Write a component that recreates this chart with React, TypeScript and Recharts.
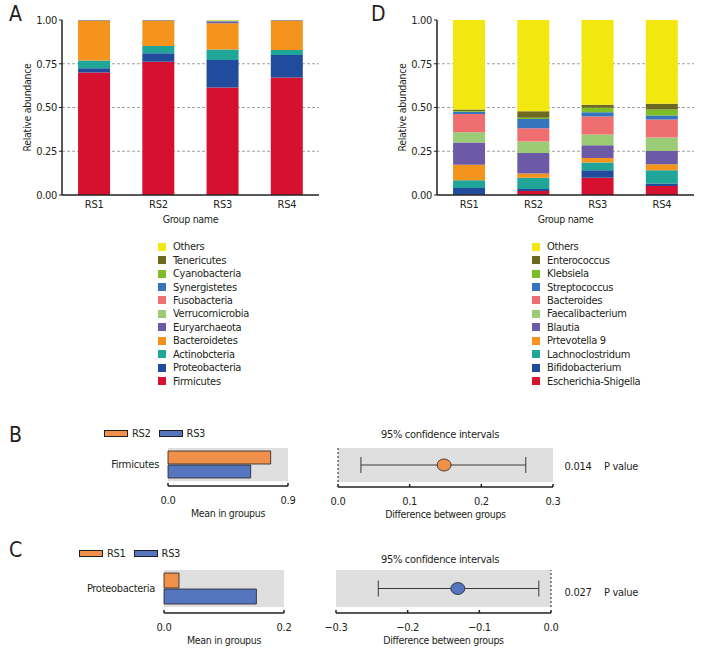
import React from "react";
import {
  BarChart,
  Bar,
  XAxis,
  YAxis,
  CartesianGrid,
  ReferenceArea,
  ReferenceLine,
  ScatterChart,
  Scatter,
  ErrorBar,
} from "recharts";

const FONT = "'Liberation Sans Narrow', 'DejaVu Sans Condensed', 'Roboto', sans-serif";
const INK = "#231f20";
const GREY_BG = "#dfdfdf";
const ORANGE = "#f0914b";
const BLUE = "#5576bf";

const groups = ["RS1", "RS2", "RS3", "RS4"];

// panel A - phylum level, listed from the bottom of the stack up
const phyla = [
  "Firmicutes",
  "Proteobacteria",
  "Actinobcteria",
  "Bacteroidetes",
  "Euryarchaeota",
  "Verrucomicrobia",
  "Fusobacteria",
  "Synergistetes",
  "Cyanobacteria",
  "Tenericutes",
  "Others",
];
const firmicutes = [0.7, 0.762, 0.615, 0.672];
const proteobacteria = [0.024, 0.048, 0.156, 0.128];
const actinobacteria = [0.044, 0.041, 0.061, 0.029];
const bacteroidetes = [0.228, 0.145, 0.149, 0.167];
const euryarchaeota = [0.0005, 0.0005, 0.008, 0.0005];
const verrucomicrobia = [0.0005, 0.0005, 0.001, 0.0005];
const fusobacteria = [0.0005, 0.0005, 0.001, 0.0005];
const synergistetes = [0.0005, 0.0005, 0.004, 0.0005];
const cyanobacteria = [0.001, 0.001, 0.001, 0.001];
const tenericutes = [0.0005, 0.0005, 0.001, 0.0005];
const othersA = [0.0005, 0.0005, 0.003, 0.0005];
const phylumValues = [
  firmicutes,
  proteobacteria,
  actinobacteria,
  bacteroidetes,
  euryarchaeota,
  verrucomicrobia,
  fusobacteria,
  synergistetes,
  cyanobacteria,
  tenericutes,
  othersA,
];

// panel D - genus level, bottom of the stack up
const genera = [
  "Escherichia-Shigella",
  "Bifidobacterium",
  "Lachnoclostridum",
  "Prtevotella 9",
  "Blautia",
  "Faecalibacterium",
  "Bacteroides",
  "Streptococcus",
  "Klebsiela",
  "Enterococcus",
  "Others",
];
const escherichia = [0.002, 0.023, 0.098, 0.051];
const bifidobacterium = [0.038, 0.011, 0.044, 0.015];
const lachnoclostridum = [0.044, 0.064, 0.044, 0.076];
const prevotella9 = [0.089, 0.025, 0.026, 0.034];
const blautia = [0.127, 0.117, 0.072, 0.076];
const faecalibacterium = [0.059, 0.066, 0.062, 0.076];
const bacteroides = [0.104, 0.076, 0.102, 0.104];
const streptococcus = [0.013, 0.053, 0.025, 0.023];
const klebsiela = [0.004, 0.006, 0.026, 0.034];
const enterococcus = [0.009, 0.038, 0.017, 0.032];
const othersD = [0.511, 0.521, 0.484, 0.479];
const genusValues = [
  escherichia,
  bifidobacterium,
  lachnoclostridum,
  prevotella9,
  blautia,
  faecalibacterium,
  bacteroides,
  streptococcus,
  klebsiela,
  enterococcus,
  othersD,
];

const palette = [
  "#d6102f",
  "#214c9e",
  "#1fa699",
  "#f5941d",
  "#6d5aa7",
  "#9ccb76",
  "#ef6e70",
  "#3674be",
  "#7dbd28",
  "#6b6a1e",
  "#f2e70f",
];

// panel B / C - two-group comparisons
const firmTaxon = ["Firmicutes"];
const firmRS2 = [0.77];
const firmRS3 = [0.62];
const firmDiff = [0.148];
const firmLow = [0.032];
const firmHigh = [0.262];

const proteoTaxon = ["Proteobacteria"];
const proteoRS1 = [0.025];
const proteoRS3 = [0.154];
const proteoDiff = [-0.13];
const proteoLow = [-0.241];
const proteoHigh = [-0.017];

const tickStyle = { fontSize: 11, fill: INK };
const titleStyle = { fontSize: 10.5, fill: INK };
const axisLineStyle = { stroke: INK, strokeWidth: 1.5 };

function stackRows(values: number[][]) {
  return groups.map((g, i) => {
    const row: Record<string, any> = { group: g };
    values.forEach((v, k) => (row["s" + k] = v[i]));
    return row;
  });
}

function StackPanel({ names, values }: { names: string[]; values: number[][] }) {
  const rows = stackRows(values);
  return (
    <BarChart
      width={340}
      height={231}
      data={rows}
      margin={{ top: 20, right: 21, bottom: 0, left: 0 }}
      barCategoryGap="25%"
    >
      <CartesianGrid
        vertical={false}
        horizontalValues={[0.25, 0.5, 0.75]}
        stroke="#a0a0a0"
        strokeDasharray="3 2"
      />
      <XAxis
        dataKey="group"
        tickLine={false}
        tickSize={0}
        tickMargin={5}
        axisLine={axisLineStyle}
        tick={tickStyle}
        height={36}
        label={{ value: "Group name", position: "insideBottom", offset: 8, ...titleStyle }}
      />
      <YAxis
        type="number"
        domain={[0, 1]}
        ticks={[0, 0.25, 0.5, 0.75, 1]}
        tickFormatter={(v: number) => v.toFixed(2)}
        width={62}
        tickSize={3}
        tickMargin={2}
        tickLine={{ stroke: INK }}
        axisLine={axisLineStyle}
        tick={tickStyle}
        label={{ value: "Relative abundance", angle: -90, position: "center", dx: -4, ...titleStyle }}
      />
      {names.map((n, k) => (
        <Bar key={n} dataKey={"s" + k} stackId="a" fill={palette[k]} isAnimationActive={false} />
      ))}
    </BarChart>
  );
}

function StackLegend({ names, left }: { names: string[]; left: number }) {
  const items = names.map((n, k) => ({ n, c: palette[k] })).reverse();
  return (
    <div style={{ position: "absolute", left, top: 240 }}>
      {items.map((it) => (
        <div key={it.n} style={{ height: 13.45, display: "flex", alignItems: "center", fontSize: 11, color: INK }}>
          <span style={{ width: 8, height: 8, background: it.c, marginRight: 7, display: "inline-block" }} />
          {it.n}
        </div>
      ))}
    </div>
  );
}

function GroupLegend({ left, top, labels }: { left: number; top: number; labels: string[] }) {
  const colors = [ORANGE, BLUE];
  return (
    <div style={{ position: "absolute", left, top, display: "flex", alignItems: "center", fontSize: 11, color: INK }}>
      {labels.map((l, i) => (
        <div key={l} style={{ display: "flex", alignItems: "center", marginRight: 8 }}>
          <span
            style={{
              width: 22,
              height: 5,
              background: colors[i],
              border: `1px solid ${INK}`,
              marginRight: 4,
              display: "inline-block",
            }}
          />
          {l}
        </div>
      ))}
    </div>
  );
}

function MeanBars({
  taxon,
  a,
  b,
  max,
  yAxisW,
  top,
  bandPad,
  barSize,
}: {
  taxon: string[];
  a: number[];
  b: number[];
  max: number;
  yAxisW: number;
  top: number;
  bandPad: number;
  barSize: number;
}) {
  const rows = taxon.map((t, i) => ({ taxon: t, a: a[i], b: b[i] }));
  const plotH = barSize * 2 + 1 + 6 + bandPad;
  return (
    <BarChart
      layout="vertical"
      width={300}
      height={top + plotH + 36}
      data={rows}
      margin={{ top, right: 300 - yAxisW - 120, bottom: 0, left: 0 }}
      barGap={1}
    >
      <XAxis
        type="number"
        domain={[0, max]}
        ticks={[0, max]}
        tickFormatter={(v: number) => v.toFixed(1)}
        axisLine={axisLineStyle}
        tickLine={axisLineStyle}
        tickSize={-3}
        tickMargin={13}
        tick={tickStyle}
        height={36}
        label={{ value: "Mean in groupus", position: "insideBottom", offset: 5, ...titleStyle }}
      />
      <YAxis
        type="category"
        dataKey="taxon"
        width={yAxisW}
        axisLine={false}
        tickLine={false}
        tickSize={0}
        tickMargin={9}
        tick={{ fontSize: 11, fill: INK }}
        padding={{ top: 0, bottom: bandPad }}
      />
      <ReferenceArea
        x1={0}
        x2={max}
        y1={taxon[0]}
        y2={taxon[0]}
        fill={GREY_BG}
        fillOpacity={1}
        stroke="none"
        ifOverflow="visible"
      />
      <Bar dataKey="a" fill={ORANGE} stroke={INK} strokeWidth={0.8} barSize={barSize} isAnimationActive={false} />
      <Bar dataKey="b" fill={BLUE} stroke={INK} strokeWidth={0.8} barSize={barSize} isAnimationActive={false} />
    </BarChart>
  );
}

function CIPanel({
  diff,
  low,
  high,
  domain,
  ticks,
  color,
  left,
  top,
  bandH,
  bandPad,
}: {
  diff: number[];
  low: number[];
  high: number[];
  domain: [number, number];
  ticks: number[];
  color: string;
  left: number;
  top: number;
  bandH: number;
  bandPad: number;
}) {
  const pts = diff.map((d, i) => ({ diff: d, row: 0.5, ci: [d - low[i], high[i] - d] }));
  const fmt = (v: number) => (v < 0 ? "\u2212" : "") + Math.abs(v).toFixed(1);
  return (
    <ScatterChart
      width={420}
      height={top + bandH + bandPad + 36}
      margin={{ top, right: 420 - left - 215, bottom: 0, left }}
    >
      <XAxis
        type="number"
        dataKey="diff"
        domain={domain}
        ticks={ticks}
        tickFormatter={fmt}
        axisLine={axisLineStyle}
        tickLine={axisLineStyle}
        tickSize={-3}
        tickMargin={13}
        tick={tickStyle}
        height={36}
        allowDataOverflow
        label={{ value: "Difference between groups", position: "insideBottom", offset: 5, ...titleStyle }}
      />
      <YAxis type="number" dataKey="row" domain={[0, 1]} hide padding={{ top: 0, bottom: bandPad }} />
      <ReferenceArea
        x1={domain[0]}
        x2={domain[1]}
        y1={0}
        y2={1}
        fill={GREY_BG}
        fillOpacity={1}
        stroke="none"
        ifOverflow="visible"
      />
      <ReferenceLine
        segment={[
          { x: 0, y: 0 },
          { x: 0, y: 1 },
        ]}
        stroke={INK}
        strokeDasharray="2 2"
        ifOverflow="visible"
      />
      <Scatter
        data={pts}
        isAnimationActive={false}
        shape={(p: any) => (
          <ellipse cx={p.cx} cy={p.cy} rx={7} ry={6} fill={color} stroke={INK} strokeWidth={0.8} />
        )}
      >
        <ErrorBar dataKey="ci" direction="x" width={8} stroke="#3a3a3a" strokeWidth={1} />
      </Scatter>
    </ScatterChart>
  );
}

function Txt({ x, y, children, size = 11, anchor = "left" }: any) {
  const style: React.CSSProperties = {
    position: "absolute",
    top: y,
    fontSize: size,
    color: INK,
    lineHeight: 1,
    whiteSpace: "nowrap",
  };
  if (anchor === "center") {
    style.left = x - 100;
    style.width = 200;
    style.textAlign = "center";
  } else {
    style.left = x;
  }
  return <div style={style}>{children}</div>;
}

export default function App() {
  return (
    <div
      style={{
        position: "absolute",
        left: 0,
        top: 0,
        width: 720,
        height: 660,
        background: "#fff",
        fontFamily: FONT,
        letterSpacing: "-0.3px",
        overflow: "hidden",
      }}
    >
      <Txt x={9} y={4} size={21}>A</Txt>
      <Txt x={371} y={4} size={21}>D</Txt>
      <Txt x={9} y={425} size={21}>B</Txt>
      <Txt x={9} y={540} size={21}>C</Txt>

      <div style={{ position: "absolute", left: 0, top: 0 }}>
        <StackPanel names={phyla} values={phylumValues} />
      </div>
      <div style={{ position: "absolute", left: 375, top: 0 }}>
        <StackPanel names={genera} values={genusValues} />
      </div>
      <StackLegend names={phyla} left={158} />
      <StackLegend names={genera} left={532} />

      <GroupLegend left={104} top={427} labels={["RS2", "RS3"]} />
      <GroupLegend left={79} top={547} labels={["RS1", "RS3"]} />

      <div style={{ position: "absolute", left: 0, top: 420 }}>
        <MeanBars taxon={firmTaxon} a={firmRS2} b={firmRS3} max={0.9} yAxisW={168} top={28} bandPad={5} barSize={13} />
      </div>
      <div style={{ position: "absolute", left: 0, top: 530 }}>
        <MeanBars
          taxon={proteoTaxon}
          a={proteoRS1}
          b={proteoRS3}
          max={0.2}
          yAxisW={164}
          top={40}
          bandPad={6}
          barSize={15}
        />
      </div>

      <div style={{ position: "absolute", left: 300, top: 420 }}>
        <CIPanel
          diff={firmDiff}
          low={firmLow}
          high={firmHigh}
          domain={[0, 0.3]}
          ticks={[0, 0.1, 0.2, 0.3]}
          color={ORANGE}
          left={38}
          top={28}
          bandH={34}
          bandPad={5}
        />
      </div>
      <div style={{ position: "absolute", left: 300, top: 530 }}>
        <CIPanel
          diff={proteoDiff}
          low={proteoLow}
          high={proteoHigh}
          domain={[-0.3, 0]}
          ticks={[-0.3, -0.2, -0.1, 0]}
          color={BLUE}
          left={36}
          top={40}
          bandH={37}
          bandPad={6}
        />
      </div>

      <Txt x={440} y={429} anchor="center">95% confidence intervals</Txt>
      <Txt x={440} y={554} anchor="center">95% confidence intervals</Txt>
      <Txt x={578} y={461} anchor="center">0.014</Txt>
      <Txt x={621} y={461} anchor="center">P value</Txt>
      <Txt x={578} y={587} anchor="center">0.027</Txt>
      <Txt x={621} y={587} anchor="center">P value</Txt>
    </div>
  );
}
